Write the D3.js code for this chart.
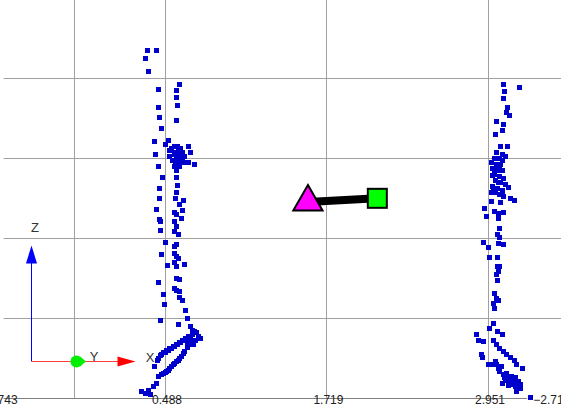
<!DOCTYPE html>
<html>
<head>
<meta charset="utf-8">
<script src="https://cdn.jsdelivr.net/npm/d3@7"></script>
<style>
  html, body { margin: 0; padding: 0; background: #fff; }
  svg { display: block; }
  text { font-family: "Liberation Sans", Arial, sans-serif; }
</style>
</head>
<body>
<svg id="chart"></svg>
<script>
const WIDTH = 561;
const HEIGHT = 410;
const POINT_SIZE = 5;
const COLOR = {
    point: '#0000cc',
    grid: '#a0a0a0',
    axis: '#808080',
    start: '#ff00ff',
    end: '#00ff00',
}

// tick values along the horizontal axis
const xTicks = [-0.743, 0.488, 1.719, 2.951];
const xTickLabels = ['-0.743', '0.488', '1.719', '2.951'];
const xExtraGrid = [-0.205];
const zGrid = [1, 2, 3, 4];
const depthLabel = '\u22122.712';

// first cluster of samples [x, z]
const clusterA = [
    [0.356, 4.338], [0.422, 4.350], [0.343, 4.238], [0.361, 4.079], [0.595, 3.913],
    [0.440, 3.859], [0.577, 3.841], [0.577, 3.759], [0.587, 3.659], [0.440, 3.629],
    [0.448, 3.504], [0.577, 3.475], [0.458, 3.375], [0.406, 3.209], [0.516, 3.225],
    [0.490, 3.163], [0.671, 3.150], [0.414, 3.050], [0.681, 3.066], [0.541, 3.125],
    [0.564, 3.150], [0.587, 3.138], [0.610, 3.125], [0.557, 3.075], [0.579, 3.063],
    [0.602, 3.050], [0.625, 3.075], [0.572, 3.013], [0.595, 3.000], [0.618, 3.000],
    [0.640, 3.025], [0.526, 3.025], [0.549, 2.975], [0.587, 2.950], [0.610, 2.938],
    [0.648, 2.950], [0.564, 2.900], [0.602, 2.888], [0.579, 2.850], [0.526, 3.100],
    [0.666, 2.941], [0.714, 2.913], [0.440, 2.900], [0.467, 2.759], [0.574, 2.759],
    [0.582, 2.659], [0.448, 2.616], [0.572, 2.571], [0.448, 2.488], [0.570, 2.496],
    [0.627, 2.475], [0.597, 2.413], [0.623, 2.350], [0.425, 2.359], [0.559, 2.316],
    [0.579, 2.288], [0.448, 2.234], [0.615, 2.246], [0.450, 2.204], [0.564, 2.204],
    [0.577, 2.150], [0.450, 2.091], [0.564, 2.079], [0.589, 2.038], [0.493, 1.946],
    [0.577, 1.925], [0.564, 1.891], [0.463, 1.796], [0.564, 1.809], [0.577, 1.766],
    [0.589, 1.746], [0.564, 1.691], [0.635, 1.663], [0.509, 1.654], [0.577, 1.641],
    [0.577, 1.496], [0.595, 1.484], [0.437, 1.446], [0.559, 1.371], [0.577, 1.341],
    [0.597, 1.329], [0.475, 1.300], [0.602, 1.254], [0.620, 1.216], [0.483, 1.175],
    [0.646, 1.091], [0.658, 0.996], [0.455, 0.966], [0.589, 0.925], [0.679, 0.900],
    [0.696, 0.850], [0.701, 0.800], [0.679, 0.763], [0.656, 0.738], [0.633, 0.713],
    [0.610, 0.688], [0.587, 0.663], [0.564, 0.638], [0.541, 0.613], [0.511, 0.588],
    [0.488, 0.563], [0.465, 0.538], [0.442, 0.500], [0.427, 0.475], [0.755, 0.750],
    [0.717, 0.725], [0.679, 0.663], [0.640, 0.579], [0.615, 0.516], [0.589, 0.475],
    [0.564, 0.434], [0.539, 0.391], [0.513, 0.350], [0.488, 0.316], [0.463, 0.300],
    [0.442, 0.266], [0.406, 0.400], [0.704, 0.663], [0.425, 0.184], [0.361, 0.100],
    [0.310, 0.079], [0.336, 0.059], [0.381, 0.050], [0.397, 0.138], [0.732, 0.813],
    [0.656, 0.688], [0.716, 0.835], [0.694, 0.798], [0.671, 0.773], [0.648, 0.748],
    [0.625, 0.723], [0.602, 0.698], [0.579, 0.673], [0.556, 0.648], [0.526, 0.623],
    [0.503, 0.598], [0.480, 0.573], [0.457, 0.535], [0.740, 0.775], [0.700, 0.700],
    [0.660, 0.630], [0.628, 0.555], [0.602, 0.500], [0.577, 0.455], [0.552, 0.413],
    [0.526, 0.372], [0.500, 0.335], [0.475, 0.310], [0.590, 3.100], [0.560, 3.040],
    [0.600, 2.970], [0.570, 2.960], [0.620, 3.050]
];

// second cluster of samples [x, z]
const clusterB = [
    [3.073, 3.925], [3.188, 3.884], [3.076, 3.834], [3.073, 3.741], [3.098, 3.634],
    [3.091, 3.571], [3.116, 3.534], [3.019, 3.454], [3.068, 3.421], [3.063, 3.338],
    [3.012, 3.291], [3.048, 3.150], [3.098, 3.138], [3.019, 3.063], [3.058, 3.050],
    [3.088, 3.025], [2.997, 3.000], [3.035, 2.988], [3.065, 2.975], [2.981, 2.938],
    [3.019, 2.925], [3.050, 2.913], [2.989, 2.875], [3.027, 2.850], [3.058, 2.838],
    [3.004, 2.800], [3.042, 2.775], [3.073, 2.750], [3.012, 2.713], [3.050, 2.688],
    [3.081, 2.663], [2.989, 2.650], [3.027, 2.625], [3.058, 2.600], [2.974, 2.575],
    [3.012, 2.563], [3.042, 2.538], [3.073, 2.525], [3.106, 2.629], [3.119, 2.488],
    [3.152, 2.475], [2.979, 2.454], [3.050, 2.446], [2.928, 2.363], [2.936, 2.266],
    [3.004, 2.329], [3.029, 2.309], [3.068, 2.316], [3.029, 2.246], [3.035, 2.121],
    [3.021, 2.038], [3.042, 2.009], [2.915, 1.941], [2.953, 1.884], [3.029, 1.934],
    [3.068, 1.925], [2.959, 1.759], [3.021, 1.759], [3.021, 1.641], [3.042, 1.641],
    [3.029, 1.579], [3.017, 1.538], [3.021, 1.475], [3.004, 1.309], [3.017, 1.246],
    [3.029, 1.216], [2.991, 1.184], [3.004, 1.121], [2.991, 0.934], [2.966, 0.871],
    [3.021, 0.829], [3.063, 0.788], [2.865, 0.788], [2.882, 0.725], [2.915, 0.704],
    [2.991, 0.725], [3.017, 0.663], [3.042, 0.621], [3.068, 0.579], [3.093, 0.538],
    [3.124, 0.509], [3.152, 0.475], [3.170, 0.425], [3.213, 0.371], [2.903, 0.538],
    [2.907, 0.509], [2.953, 0.425], [2.991, 0.413], [3.017, 0.425], [3.029, 0.371],
    [3.055, 0.400], [3.042, 0.329], [3.068, 0.288], [3.093, 0.309], [3.106, 0.259],
    [3.132, 0.275], [3.158, 0.259], [3.119, 0.204], [3.152, 0.191], [3.183, 0.204],
    [3.196, 0.163], [3.158, 0.141], [3.170, 0.079], [3.196, 0.121], [3.081, 0.225],
    [3.060, 0.184], [3.272, 0.009], [3.080, 0.260], [3.100, 0.230], [3.130, 0.240],
    [3.140, 0.170], [3.110, 0.160], [3.175, 0.140], [3.005, 0.450], [3.040, 0.395],
    [3.000, 2.860], [3.030, 2.700], [2.995, 2.600], [3.040, 2.900], [2.985, 2.780],
    [3.060, 2.560]
];

// start (triangle) and end (square) of the marked segment
const segStart = [1.578, 2.450];
const segEnd = [2.107, 2.496];

function drawChart() {
    let svg = d3.select('#chart')
        .attr('width', WIDTH)
        .attr('height', HEIGHT)

    let x = d3.scaleLinear().domain([0.488, 2.951]).range([165, 488]);
    let z = d3.scaleLinear().domain([0, 4]).range([398, 78]);

    const xLeft = x(xTicks[0]);
    const axisEnd = x(3.25);

    // grid
    const grid = svg.append('g')
    grid.selectAll('line.h')
        .data(zGrid)
        .enter().append('line')
        .attr('x1', xLeft)
        .attr('x2', WIDTH)
        .attr('y1', d => z(d) + 0.5)
        .attr('y2', d => z(d) + 0.5)
        .attr('stroke', COLOR.grid)
    grid.selectAll('line.v')
        .data(xExtraGrid.concat(xTicks.slice(1)))
        .enter().append('line')
        .attr('x1', d => Math.round(x(d)) + 0.5)
        .attr('x2', d => Math.round(x(d)) + 0.5)
        .attr('y1', 0)
        .attr('y2', z(0))
        .attr('stroke', COLOR.grid)

    // bottom axis line
    svg.append('line')
        .attr('x1', xLeft)
        .attr('x2', axisEnd)
        .attr('y1', z(0) + 0.5)
        .attr('y2', z(0) + 0.5)
        .attr('stroke', COLOR.axis)

    // points
    const pts = clusterA.concat(clusterB);
    svg.append('g')
        .selectAll('rect')
        .data(pts)
        .enter().append('rect')
        .attr('x', d => Math.round(x(d[0]) - POINT_SIZE / 2))
        .attr('y', d => Math.round(z(d[1]) - POINT_SIZE / 2))
        .attr('width', POINT_SIZE)
        .attr('height', POINT_SIZE)
        .attr('fill', COLOR.point)

    // tick labels
    svg.append('g')
        .selectAll('text')
        .data(xTicks)
        .enter().append('text')
        .text((d, i) => xTickLabels[i])
        .attr('x', (d, i) => x(d) + (i === 0 ? -3 : 2))
        .attr('y', z(0) + 6)
        .attr('font-size', 12)
        .attr('fill', '#222')
        .attr('text-anchor', 'middle')

    svg.append('text')
        .text(depthLabel)
        .attr('x', axisEnd + 6)
        .attr('y', z(0) + 6)
        .attr('font-size', 12)
        .attr('fill', '#222')

    // segment between start and end
    svg.append('line')
        .attr('x1', x(segStart[0]))
        .attr('y1', z(segStart[1]))
        .attr('x2', x(segEnd[0]))
        .attr('y2', z(segEnd[1]))
        .attr('stroke', '#000')
        .attr('stroke-width', 8)

    svg.append('path')
        .attr('d', d3.symbol(d3.symbolTriangle, 370)())
        .attr('transform', `translate(${x(segStart[0])},${z(segStart[1])})`)
        .attr('fill', COLOR.start)
        .attr('stroke', '#000')
        .attr('stroke-width', 2)

    svg.append('rect')
        .attr('x', x(segEnd[0]) - 9.5)
        .attr('y', z(segEnd[1]) - 9.5)
        .attr('width', 19)
        .attr('height', 19)
        .attr('fill', COLOR.end)
        .attr('stroke', '#000')
        .attr('stroke-width', 2)

    // orientation gizmo (screen space)
    const gizmo = svg.append('g').attr('transform', 'translate(31.5,361.5)')
    gizmo.append('line')
        .attr('x1', 0).attr('y1', 0).attr('x2', 0).attr('y2', -100)
        .attr('stroke', '#0000ff')
    gizmo.append('path')
        .attr('d', 'M0,-116L-5.5,-98L5.5,-98Z')
        .attr('fill', '#0000ff')
    gizmo.append('line')
        .attr('x1', 0).attr('y1', 0).attr('x2', 88).attr('y2', 0)
        .attr('stroke', '#ff4040')
    gizmo.append('path')
        .attr('d', 'M104,0L86,-5L86,5Z')
        .attr('fill', '#ff0000')
    gizmo.append('circle')
        .attr('cx', 45).attr('cy', 0).attr('r', 6)
        .attr('fill', '#00ee00')
    gizmo.append('path')
        .attr('d', 'M48.5,-5L54.5,0L48.5,5Z')
        .attr('fill', '#00ee00')

    const gizmoLabels = [['Z', 3.5, -130], ['Y', 62.5, -1], ['X', 118.5, 0]];
    gizmo.selectAll('text')
        .data(gizmoLabels)
        .enter().append('text')
        .text(d => d[0])
        .attr('x', d => d[1])
        .attr('y', d => d[2])
        .attr('font-size', 13)
        .attr('fill', '#333')
        .attr('text-anchor', 'middle')
}

drawChart();
</script>
</body>
</html>
